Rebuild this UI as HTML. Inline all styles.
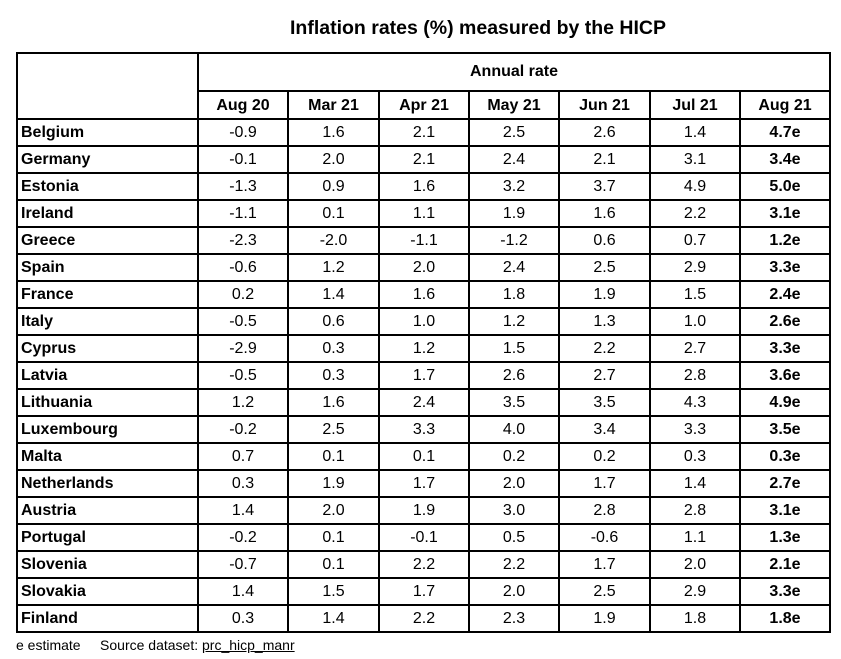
<!DOCTYPE html>
<html><head><meta charset="utf-8"><style>
body{margin:0;width:841px;height:659px;background:#fff;font-family:"Liberation Sans",Arial,sans-serif;color:#000;position:relative;overflow:hidden}
.t{position:absolute;left:100px;width:756px;top:17px;font-weight:bold;font-size:19.5px;text-align:center}
table{position:absolute;left:16px;top:52px;border-collapse:collapse;table-layout:fixed}
td{border:2px solid #000;padding:0;font-size:16px;text-align:center;height:25px;line-height:25px}
td.n{text-align:left;font-weight:bold;padding-left:3px}
td.b{font-weight:bold}
tr.h td{font-weight:bold}
.f{position:absolute;left:16px;top:637px;font-size:14px}
.f u{text-decoration:underline}
</style></head><body>
<div class="t">Inflation rates (%) measured by the HICP</div>
<table>
<colgroup><col style="width:181px"><col style="width:90px"><col style="width:91px"><col style="width:90px"><col style="width:90px"><col style="width:91px"><col style="width:90px"><col style="width:90px"></colgroup>
<tr class="h"><td rowspan="2"></td><td colspan="7" style="height:36px;line-height:36px">Annual rate</td></tr>
<tr class="h"><td style="height:26px">Aug 20</td><td>Mar 21</td><td>Apr 21</td><td>May 21</td><td>Jun 21</td><td>Jul 21</td><td>Aug 21</td></tr>
<tr><td class="n">Belgium</td><td>-0.9</td><td>1.6</td><td>2.1</td><td>2.5</td><td>2.6</td><td>1.4</td><td class="b">4.7e</td></tr>
<tr><td class="n">Germany</td><td>-0.1</td><td>2.0</td><td>2.1</td><td>2.4</td><td>2.1</td><td>3.1</td><td class="b">3.4e</td></tr>
<tr><td class="n">Estonia</td><td>-1.3</td><td>0.9</td><td>1.6</td><td>3.2</td><td>3.7</td><td>4.9</td><td class="b">5.0e</td></tr>
<tr><td class="n">Ireland</td><td>-1.1</td><td>0.1</td><td>1.1</td><td>1.9</td><td>1.6</td><td>2.2</td><td class="b">3.1e</td></tr>
<tr><td class="n">Greece</td><td>-2.3</td><td>-2.0</td><td>-1.1</td><td>-1.2</td><td>0.6</td><td>0.7</td><td class="b">1.2e</td></tr>
<tr><td class="n">Spain</td><td>-0.6</td><td>1.2</td><td>2.0</td><td>2.4</td><td>2.5</td><td>2.9</td><td class="b">3.3e</td></tr>
<tr><td class="n">France</td><td>0.2</td><td>1.4</td><td>1.6</td><td>1.8</td><td>1.9</td><td>1.5</td><td class="b">2.4e</td></tr>
<tr><td class="n">Italy</td><td>-0.5</td><td>0.6</td><td>1.0</td><td>1.2</td><td>1.3</td><td>1.0</td><td class="b">2.6e</td></tr>
<tr><td class="n">Cyprus</td><td>-2.9</td><td>0.3</td><td>1.2</td><td>1.5</td><td>2.2</td><td>2.7</td><td class="b">3.3e</td></tr>
<tr><td class="n">Latvia</td><td>-0.5</td><td>0.3</td><td>1.7</td><td>2.6</td><td>2.7</td><td>2.8</td><td class="b">3.6e</td></tr>
<tr><td class="n">Lithuania</td><td>1.2</td><td>1.6</td><td>2.4</td><td>3.5</td><td>3.5</td><td>4.3</td><td class="b">4.9e</td></tr>
<tr><td class="n">Luxembourg</td><td>-0.2</td><td>2.5</td><td>3.3</td><td>4.0</td><td>3.4</td><td>3.3</td><td class="b">3.5e</td></tr>
<tr><td class="n">Malta</td><td>0.7</td><td>0.1</td><td>0.1</td><td>0.2</td><td>0.2</td><td>0.3</td><td class="b">0.3e</td></tr>
<tr><td class="n">Netherlands</td><td>0.3</td><td>1.9</td><td>1.7</td><td>2.0</td><td>1.7</td><td>1.4</td><td class="b">2.7e</td></tr>
<tr><td class="n">Austria</td><td>1.4</td><td>2.0</td><td>1.9</td><td>3.0</td><td>2.8</td><td>2.8</td><td class="b">3.1e</td></tr>
<tr><td class="n">Portugal</td><td>-0.2</td><td>0.1</td><td>-0.1</td><td>0.5</td><td>-0.6</td><td>1.1</td><td class="b">1.3e</td></tr>
<tr><td class="n">Slovenia</td><td>-0.7</td><td>0.1</td><td>2.2</td><td>2.2</td><td>1.7</td><td>2.0</td><td class="b">2.1e</td></tr>
<tr><td class="n">Slovakia</td><td>1.4</td><td>1.5</td><td>1.7</td><td>2.0</td><td>2.5</td><td>2.9</td><td class="b">3.3e</td></tr>
<tr><td class="n">Finland</td><td>0.3</td><td>1.4</td><td>2.2</td><td>2.3</td><td>1.9</td><td>1.8</td><td class="b">1.8e</td></tr>
</table>
<div class="f">e estimate&nbsp;&nbsp;&nbsp;&nbsp;&nbsp;Source dataset: <u>prc_hicp_manr</u></div>
</body></html>
